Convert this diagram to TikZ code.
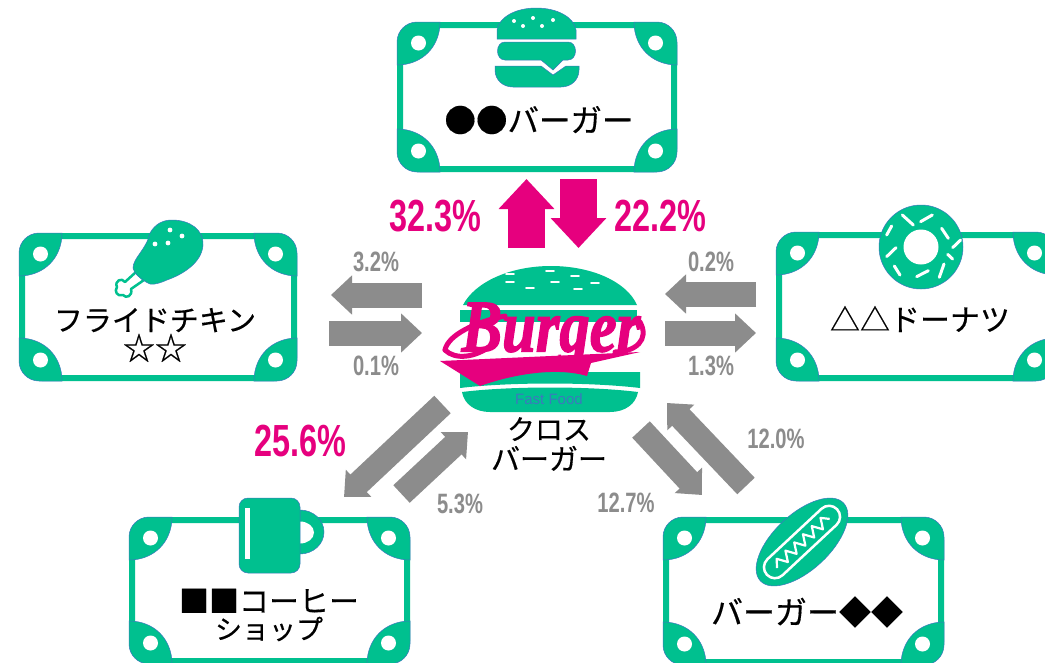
\documentclass[tikz,border=0pt]{standalone}
\usepackage{fontspec}
\usetikzlibrary{arrows.meta,calc}
\setmainfont{Liberation Sans}
\newfontfamily\jpf[FakeBold=0.4]{Noto Sans CJK JP}
\newfontfamily\pctfont[FakeStretch=0.72]{Liberation Sans}
\newfontfamily\logofont[FakeBold=2]{Liberation Serif}
\definecolor{gr}{HTML}{00C08F}
\definecolor{edge}{HTML}{3C78BE}
\definecolor{mg}{HTML}{E6007E}
\definecolor{gy}{HTML}{8C8C8C}
\tikzset{
 grfill/.style={fill=gr,draw=edge,line width=0.5pt},
 frame/.style={draw=gr,line width=6pt,fill=white},
 lab/.style={font=\jpf\fontsize{29}{30}\selectfont,text=black,inner sep=0pt,align=center},
 bigpct/.style={font=\pctfont\bfseries\fontsize{45}{45}\selectfont,text=mg,inner sep=0pt},
 smallpct/.style={font=\pctfont\bfseries\fontsize{28}{28}\selectfont,text=gy,inner sep=0pt},
 magarrow/.style={draw=mg,line width=37pt,-{Triangle[length=30pt,width=54pt]}},
 grayarrow/.style={draw=gy,line width=25pt,-{Triangle[length=21pt,width=38pt]}},
 diagarrow/.style={draw=gy,line width=24pt,-{Triangle[length=20pt,width=36pt]}},
}
% card: outer box x0 y0 x1 y1
\newcommand{\card}[4]{%
 \draw[frame,rounded corners=20pt] (#1+3,#2+3) rectangle (#3-3,#4-3);
 \foreach \sx/\sy/\cx/\cy in {1/1/#1/#2,-1/1/#3/#2,1/-1/#1/#4,-1/-1/#3/#4}{%
  \begin{scope}[shift={(\cx,\cy)},xscale=\sx,yscale=\sy]
   \path[grfill] (0,20) .. controls (0,9) and (9,0) .. (20,0)
     -- (43,0) .. controls (43,25) and (25,43) .. (0,43) -- cycle;
   \fill[white] (21.5,21) circle[radius=7.5];
  \end{scope}}%
}
\begin{document}
\begin{tikzpicture}[x=1pt,y=-1pt]
\useasboundingbox (0,0) rectangle (1045,662);
\fill[white] (0,0) rectangle (1045,662);
% cards
\card{397}{22}{677}{172}
\card{19}{233}{297}{381}
\card{776}{232}{1056}{381}
\card{129}{517}{410}{664}
\card{663}{517}{944}{665}
% top burger icon
\path[grfill] (497,39) -- (497,30) .. controls (499,17) and (516,8) .. (536,8) .. controls (557,8) and (574,17) .. (576,30) -- (576,39) -- cycle;
\foreach \p in {(514,21),(533,18),(553,20),(523,26),(542,26)} \fill[white] \p circle[radius=2];
\path[grfill] (505,42) -- (568,42) .. controls (578,42) and (578,60) .. (568,60) -- (563,60) -- (553,70) -- (541,60) -- (505,60) .. controls (495,60) and (495,42) .. (505,42) -- cycle;
\path[grfill] (495,66) -- (541,66) -- (553,75) -- (566,66) -- (579,66) -- (579,70) .. controls (579,80) and (571,87) .. (561,87) -- (513,87) .. controls (503,87) and (495,80) .. (495,70) -- cycle;
% chicken icon
\draw[gr,fill=white,line width=2.5pt,line join=round] (136,272) -- (144,280) -- (131,289) .. controls (133,296) and (126,299) .. (123,295) .. controls (117,297) and (114,291) .. (117,287) .. controls (114,281) and (122,277) .. (125,282) -- cycle;
\path[grfill] (133,268) .. controls (133,258) and (146,250) .. (150,233) .. controls (155,224) and (163,220) .. (172,220) .. controls (190,220) and (204,230) .. (203,245) .. controls (202,262) and (184,274) .. (167,280) .. controls (158,284) and (150,286) .. (146,282) .. controls (140,278) and (134,274) .. (133,268) -- cycle;
\foreach \p in {(170,230),(182,236),(155,244),(168,243)} \fill[white] \p circle[radius=2.4];
% donut icon
\path[grfill] (921,247) circle[radius=42];
\fill[white] (921,247) circle[radius=17.5];
\begin{scope}[shift={(770,200)},x=0.3333pt,y=-0.3333pt]
\foreach \a/\b/\c/\d in {397/45/430/75,452/65/487/45,350/105/365/78,515/85/535/115,548/143/572/120,350/170/378/143,533/163/548/177,373/198/390/225,440/230/475/212,508/232/522/192}
 \draw[white,line width=3pt,line cap=round] (\a,\b) -- (\c,\d);
\end{scope}
% coffee icon
\path[grfill] (300,532) ellipse[x radius=24,y radius=22];
\fill[white] (300,532.5) ellipse[x radius=14,y radius=11];
\path[grfill,rounded corners=9pt] (239,498) rectangle (300,573);
\draw[white,line width=5pt] (247.5,508) -- (247.5,559);
% hotdog icon
\begin{scope}[shift={(802,542)},rotate=43]
 \path[grfill] (0,0) ellipse[x radius=57,y radius=28];
 \draw[white,line width=2.5pt,rounded corners=11pt] (-48,-11) rectangle (48,11);
 \draw[white,line width=2.2pt,line join=round] (-36,2) -- (-30,-5) -- (-24,5) -- (-18,-5) -- (-12,5) -- (-6,-5) -- (0,5) -- (6,-5) -- (12,5) -- (18,-5) -- (24,5) -- (30,-5) -- (36,2);
\end{scope}
% central burger
\path[fill=gr] (463,305) .. controls (475,282) and (510,266) .. (551,266) .. controls (592,266) and (627,282) .. (637,305) -- cycle;
\foreach \p in {(510,274),(550,271),(575,276),(510,282),(555,282),(595,283),(530,288),(578,289)} \draw[white,line width=1.6pt,line cap=round] \p ++(-4,0) -- ++(8,0);
\path[fill=gr] (460,310) rectangle (637,322);
\path[fill=gr] (460,372) -- (640,372) -- (640,388) .. controls (590,382) and (510,382) .. (460,388) -- cycle;
\path[fill=gr] (462,392) .. controls (510,386) and (590,386) .. (638,392) .. controls (636,404) and (625,412) .. (610,412) -- (490,412) .. controls (475,412) and (464,404) .. (462,392) -- cycle;
\path[fill=mg] (440,361) -- (640,352) -- (591,363) -- (587,376) .. controls (560,368) and (520,372) .. (480,386) -- cycle;
\draw[mg,line width=5pt,line cap=round] (445,350) .. controls (448,335) and (475,322) .. (505,316);
\draw[mg,line width=5pt,line cap=round] (445,350) .. controls (455,360) and (475,358) .. (492,345);
\draw[mg,line width=5pt,line cap=round] (615,352) .. controls (635,352) and (650,340) .. (640,322);
\node[inner sep=0pt,text=edge,font=\fontsize{15}{15}\selectfont] (fastfood) at (549,399.5) {Fast Food};
\node[inner sep=0pt,text=mg,font=\logofont\bfseries\itshape\fontsize{74}{74}\selectfont,xscale=0.82] (logo) at (551,335) {Burger};
% centre label
\node[lab] (cross) at (549,444) {\fontsize{28}{29}\selectfont クロス\\\fontsize{29}{29}\selectfont バーガー};
% card labels
\node[lab,font=\jpf\fontsize{31.5}{32}\selectfont] (l1) at (539,120) {●●バーガー};
\node[lab] (l2) at (155,335) {フライドチキン\\[-1pt]\fontsize{32}{32}\selectfont ☆☆};
\node[lab,font=\jpf\fontsize{30}{32}\selectfont] (l3) at (920,319) {△△ドーナツ};
\node[lab] (l4) at (269,615) {\fontsize{30}{31}\selectfont ■■コーヒー\\[-3pt]\fontsize{27}{28}\selectfont ショップ};
\node[lab,font=\jpf\fontsize{32}{32}\selectfont] (l5) at (807,612) {バーガー◆◆};
% arrows
\coordinate (tA) at (526.5,248); \coordinate (hA) at (526.5,179);
\coordinate (tB) at (578.5,179); \coordinate (hB) at (578.5,248);
\draw[magarrow] (tA) -- (hA);
\draw[magarrow] (tB) -- (hB);
\coordinate (tC) at (422,295); \coordinate (hC) at (331,295);
\coordinate (tD) at (329,333); \coordinate (hD) at (422,333);
\coordinate (tE) at (756,294); \coordinate (hE) at (665,294);
\coordinate (tF) at (665,333); \coordinate (hF) at (756,333);
\coordinate (tG) at (442.5,404.5); \coordinate (hG) at (344,497);
\coordinate (tH) at (401.5,494); \coordinate (hH) at (468,432);
\coordinate (tI) at (641,429.5); \coordinate (hI) at (702,495);
\coordinate (tJ) at (746,486); \coordinate (hJ) at (667,403);
\foreach \t/\h in {tC/hC,tD/hD,tE/hE,tF/hF} \draw[grayarrow] (\t) -- (\h);
\foreach \t/\h in {tG/hG,tH/hH,tI/hI,tJ/hJ} \draw[diagarrow] (\t) -- (\h);
% percentages
\node[bigpct] (p1) at (435,216) {32.3\%};
\node[bigpct] (p2) at (660,216) {22.2\%};
\node[bigpct] (p3) at (300,441) {25.6\%};
\node[smallpct] (p4) at (376,262) {3.2\%};
\node[smallpct] (p5) at (376,366) {0.1\%};
\node[smallpct] (p6) at (711,262) {0.2\%};
\node[smallpct] (p7) at (711,366) {1.3\%};
\node[smallpct] (p8) at (460,504) {5.3\%};
\node[smallpct] (p9) at (626,503) {12.7\%};
\node[smallpct] (p10) at (776,439) {12.0\%};
\end{tikzpicture}
\end{document}
